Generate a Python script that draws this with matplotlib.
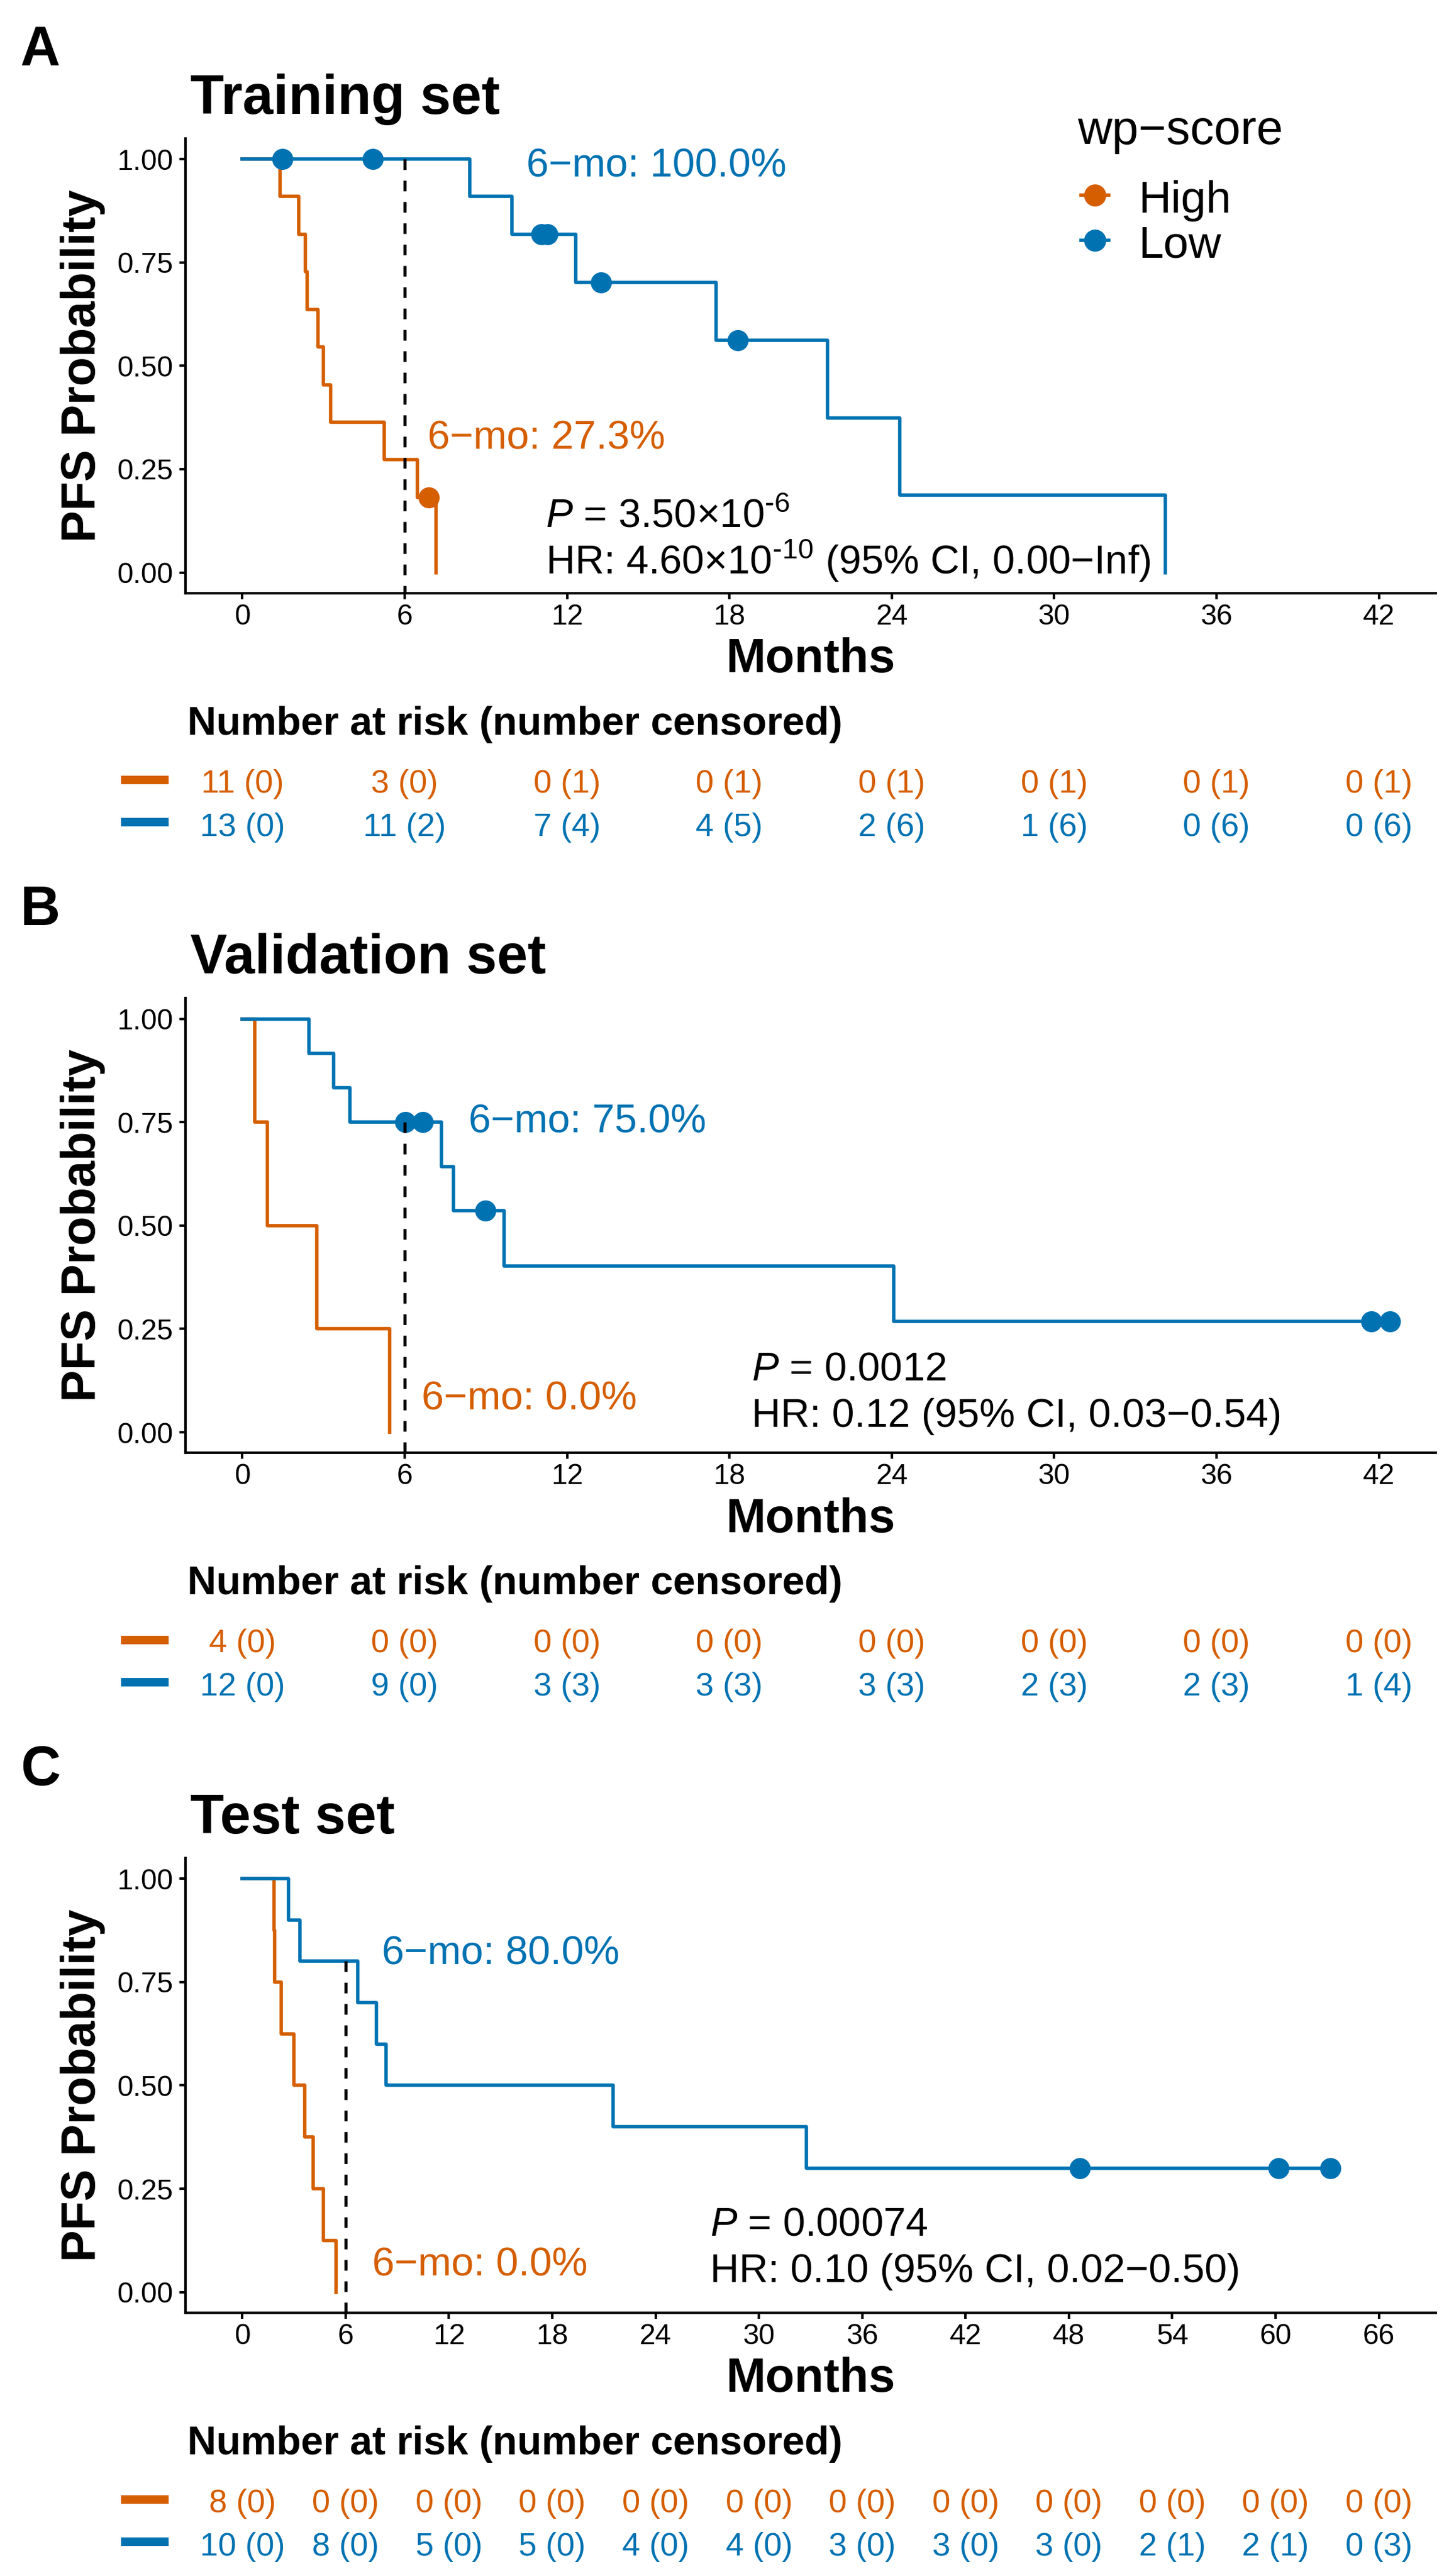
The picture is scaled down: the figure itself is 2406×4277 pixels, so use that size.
import numpy as np
import matplotlib
matplotlib.use("Agg")
import matplotlib.pyplot as plt

plt.rcParams['font.family'] = ['Liberation Sans', 'DejaVu Sans']
plt.rcParams['mathtext.fontset'] = 'custom'
plt.rcParams['mathtext.rm'] = 'Liberation Sans'
plt.rcParams['mathtext.it'] = 'Liberation Sans:italic'
plt.rcParams['mathtext.bf'] = 'Liberation Sans:bold'

col_high = "#D55E00"
col_low = "#0072B2"

# --- Training set (A): PFS times in months, 1 = progression, 0 = censored
train_high_time = [1.39, 2.08, 2.33, 2.39, 2.79, 2.99, 3.27, 5.25, 6.46, 6.89, 7.15]
train_high_event = [1, 1, 1, 1, 1, 1, 1, 1, 1, 0, 1]
train_low_time = [1.48, 4.82, 8.41, 9.97, 11.05, 11.27, 12.33, 13.25, 17.5, 18.31, 21.62, 24.3, 34.1]
train_low_event = [0, 0, 1, 1, 0, 0, 1, 0, 1, 0, 1, 1, 1]

# --- Validation set (B)
valid_high_time = [0.47, 0.92, 2.76, 5.44]
valid_high_event = [1, 1, 1, 1]
valid_low_time = [2.46, 3.38, 3.97, 6.02, 6.67, 7.36, 7.81, 8.98, 9.67, 24.08, 41.73, 42.41]
valid_low_event = [1, 1, 1, 0, 0, 1, 1, 0, 1, 1, 0, 0]

# --- Test set (C)
test_high_time = [1.84, 1.89, 2.27, 2.98, 3.62, 4.11, 4.70, 5.46]
test_high_event = [1, 1, 1, 1, 1, 1, 1, 1]
test_low_time = [2.69, 3.36, 6.71, 7.80, 8.33, 21.54, 32.76, 48.63, 60.18, 63.20]
test_low_event = [1, 1, 1, 1, 1, 1, 1, 0, 0, 0]

# x breaks (months)
train_breaks = [0, 6, 12, 18, 24, 30, 36, 42]
valid_breaks = [0, 6, 12, 18, 24, 30, 36, 42]
test_breaks = [0, 6, 12, 18, 24, 30, 36, 42, 48, 54, 60, 66]

# number at risk (number censored)
train_risk_high = [11, 3, 0, 0, 0, 0, 0, 0]
train_cens_high = [0, 0, 1, 1, 1, 1, 1, 1]
train_risk_low = [13, 11, 7, 4, 2, 1, 0, 0]
train_cens_low = [0, 2, 4, 5, 6, 6, 6, 6]
valid_risk_high = [4, 0, 0, 0, 0, 0, 0, 0]
valid_cens_high = [0, 0, 0, 0, 0, 0, 0, 0]
valid_risk_low = [12, 9, 3, 3, 3, 2, 2, 1]
valid_cens_low = [0, 0, 3, 3, 3, 3, 3, 4]
test_risk_high = [8, 0, 0, 0, 0, 0, 0, 0, 0, 0, 0, 0]
test_cens_high = [0, 0, 0, 0, 0, 0, 0, 0, 0, 0, 0, 0]
test_risk_low = [10, 8, 5, 5, 4, 4, 3, 3, 3, 2, 2, 0]
test_cens_low = [0, 0, 0, 0, 0, 0, 0, 0, 0, 1, 1, 3]

# 6-month PFS labels
train_6mo = ["27.3%", "100.0%"]
valid_6mo = ["0.0%", "75.0%"]
test_6mo = ["0.0%", "80.0%"]

train_p = r"$\mathit{P}$ = 3.50×10$^{\text{-}6}$"
train_hr = r"HR: 4.60×10$^{\text{-}10}$ (95% CI, 0.00−Inf)"
valid_p = r"$\mathit{P}$ = 0.0012"
valid_hr = "HR: 0.12 (95% CI, 0.03−0.54)"
test_p = r"$\mathit{P}$ = 0.00074"
test_hr = "HR: 0.10 (95% CI, 0.02−0.50)"


def km(times, events):
    # Kaplan-Meier steps + censor marks
    order = np.argsort(times, kind="stable")
    t = np.asarray(times, float)[order]
    e = np.asarray(events)[order]
    at_risk = len(t)
    s = 1.0
    xs, ys, cx, cy = [0.0], [1.0], [], []
    for ti, ei in zip(t, e):
        if ei:
            s *= (at_risk - 1) / at_risk
            xs.append(ti)
            ys.append(s)
        else:
            cx.append(ti)
            cy.append(s)
        at_risk -= 1
    xs.append(t[-1])
    ys.append(s)
    return np.array(xs), np.array(ys), cx, cy


def surv_at(xs, ys, t0):
    return ys[np.searchsorted(xs, t0, side="right") - 1]


panels = [
    dict(tag="A", title="Training set", bottom=0.76972,
         high=(train_high_time, train_high_event), low=(train_low_time, train_low_event),
         breaks=train_breaks, risk=(train_risk_high, train_cens_high, train_risk_low, train_cens_low),
         mo=train_6mo, mo_pos=[(6.84, 0.298), (10.49, 0.957)],
         p=train_p, hr=train_hr, p_pos=(11.22, 0.110), hr_y=-0.003, legend=True),
    dict(tag="B", title="Validation set", bottom=0.43596,
         high=(valid_high_time, valid_high_event), low=(valid_low_time, valid_low_event),
         breaks=valid_breaks, risk=(valid_risk_high, valid_cens_high, valid_risk_low, valid_cens_low),
         mo=valid_6mo, mo_pos=[(6.63, 0.055), (8.35, 0.725)],
         p=valid_p, hr=valid_hr, p_pos=(18.82, 0.1256), hr_y=0.0134, legend=False),
    dict(tag="C", title="Test set", bottom=0.10218,
         high=(test_high_time, test_high_event), low=(test_low_time, test_low_event),
         breaks=test_breaks, risk=(test_risk_high, test_cens_high, test_risk_low, test_cens_low),
         mo=test_6mo, mo_pos=[(7.56, 0.040), (8.09, 0.792)],
         p=test_p, hr=test_hr, p_pos=(27.15, 0.137), hr_y=0.024, legend=False),
]

fig = plt.figure(figsize=(2406 / 300, 4277 / 300), dpi=300)
lw = 1.35

for pnl in panels:
    ax = fig.add_axes([0.1280, pnl["bottom"], 0.8628, 0.17657])
    xmax = pnl["breaks"][-1]
    ax.set_xlim(-0.05 * xmax, 1.05 * xmax)
    ax.set_ylim(-0.05, 1.05)

    curves = []
    for (tt, ee), col in [(pnl["high"], col_high), (pnl["low"], col_low)]:
        xs, ys, cx, cy = km(tt, ee)
        curves.append((xs, ys))
        ax.step(xs, ys, where="post", color=col, lw=lw, zorder=3)
        ax.plot(cx, cy, "o", ms=7.4, color=col, mec=col, zorder=4)

    # 6-month reference line
    top6 = max(surv_at(xs, ys, 6) for xs, ys in curves)
    ax.plot([6, 6], [top6, -0.05], color="black", lw=1.25, ls=(0, (3.4, 3.4)), zorder=5)

    for txt, (x, y), col in zip(pnl["mo"], pnl["mo_pos"], [col_high, col_low]):
        ax.text(x, y, "6−mo: " + txt, color=col, fontsize=16, va="baseline", ha="left")
    ax.text(pnl["p_pos"][0], pnl["p_pos"][1], pnl["p"], fontsize=16, va="baseline", ha="left")
    ax.text(pnl["p_pos"][0], pnl["hr_y"], pnl["hr"], fontsize=16, va="baseline", ha="left")

    ax.spines["top"].set_visible(False)
    ax.spines["right"].set_visible(False)
    for sp in ["left", "bottom"]:
        ax.spines[sp].set_linewidth(1.0)
    ax.set_xticks(pnl["breaks"])
    ax.set_yticks([0, 0.25, 0.5, 0.75, 1.0])
    ax.set_yticklabels(["0.00", "0.25", "0.50", "0.75", "1.00"])
    ax.tick_params(axis="both", length=2.5, width=1.0, labelsize=11.5, colors="black")
    ax.tick_params(axis="y", pad=2.5)
    ax.tick_params(axis="x", pad=1.5)

    ax.text(0.5, -0.1736, "Months", transform=ax.transAxes, fontsize=19,
            fontweight="bold", ha="center", va="baseline")
    ax.text(-0.0723, 0.5, "PFS Probability", transform=ax.transAxes, fontsize=19,
            fontweight="bold", ha="center", va="baseline", rotation=90,
            rotation_mode="anchor")
    ax.text(0.004, 1.054, pnl["title"], transform=ax.transAxes, fontsize=22,
            fontweight="bold", ha="left", va="baseline")
    ax.text(-0.132, 1.160, pnl["tag"], transform=ax.transAxes, fontsize=22,
            fontweight="bold", ha="left", va="baseline")

    # risk table under the axis
    trans = ax.get_xaxis_transform()
    ax.text(0.0017, -0.3113, "Number at risk (number censored)", transform=ax.transAxes,
            fontsize=16, fontweight="bold", ha="left", va="baseline")
    r_high, c_high, r_low, c_low = pnl["risk"]
    for rr, cc, col, yrow, ybar in [(r_high, c_high, col_high, -0.4384, -0.4110),
                                    (r_low, c_low, col_low, -0.5334, -0.5038)]:
        for b, r, c in zip(pnl["breaks"], rr, cc):
            ax.text(b, yrow, f"{r} ({c})", transform=trans, color=col, fontsize=13,
                    ha="center", va="baseline", clip_on=False)
        ax.plot([-0.0515, -0.0135], [ybar, ybar], transform=ax.transAxes, color=col,
                lw=3.4, solid_capstyle="butt", clip_on=False)

    if pnl["legend"]:
        ax.text(0.7134, 0.9874, "wp−score", transform=ax.transAxes, fontsize=19,
                ha="left", va="baseline")
        for lab, col, yb, yk in [("High", col_high, 0.8367, 0.8749),
                                 ("Low", col_low, 0.7378, 0.7758)]:
            ax.plot([0.7163, 0.7384], [yk, yk], transform=ax.transAxes, color=col, lw=lw,
                    clip_on=False)
            ax.plot([0.7274], [yk], "o", transform=ax.transAxes, color=col, ms=7.8,
                    clip_on=False)
            ax.text(0.7625, yb, lab, transform=ax.transAxes, fontsize=18,
                    ha="left", va="baseline")

fig.savefig("out.png", dpi=300)
